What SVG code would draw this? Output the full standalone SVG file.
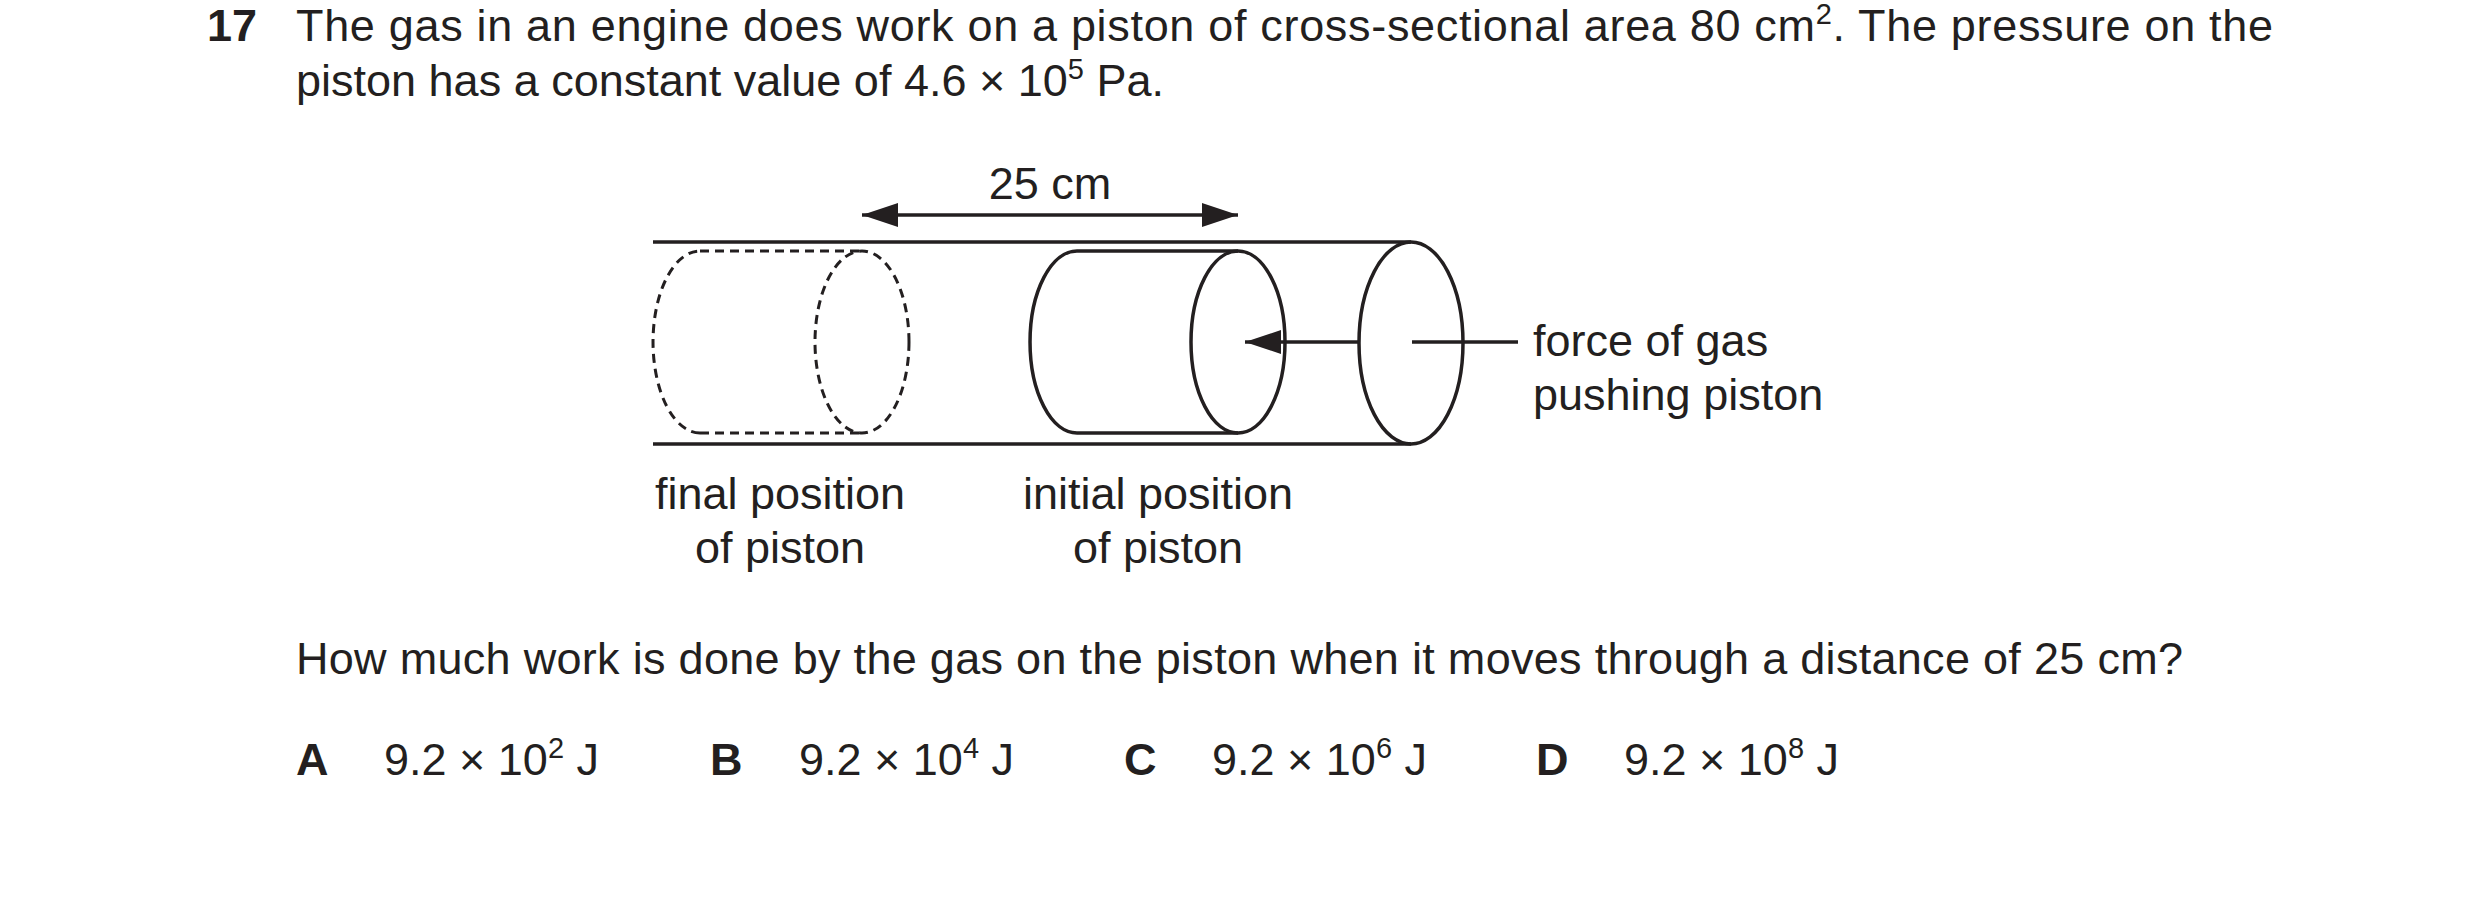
<svg xmlns="http://www.w3.org/2000/svg" width="2480" height="902" viewBox="0 0 2480 902">
<style>
text{font-family:"Liberation Sans",Arial,sans-serif;font-size:45px;fill:#231f20}
.b{font-weight:bold}
.s{stroke:#231f20;stroke-width:3.5;fill:none}
.d{stroke:#231f20;stroke-width:3;fill:none;stroke-dasharray:9 6}
</style>
<defs>
<marker id="a2" viewBox="0 0 36 24" refX="36" refY="12" markerWidth="36" markerHeight="24" markerUnits="userSpaceOnUse" orient="auto-start-reverse"><path d="M0,0L36,12L0,24z" fill="#231f20"/></marker>
</defs>
<rect width="2480" height="902" fill="#fff"/>
<text class="b" x="207" y="41">17</text>
<text x="296" y="41" textLength="1977" lengthAdjust="spacing">The gas in an engine does work on a piston of cross-sectional area 80 cm<tspan dy="-17" font-size="29">2</tspan><tspan dy="17">. The pressure on the</tspan></text>
<text x="296" y="96">piston has a constant value of 4.6 × 10<tspan dy="-17" font-size="29">5</tspan><tspan dy="17"> Pa.</tspan></text>
<g id="tube">
<path class="s" d="M653,242H1411M653,444H1411"/>
<ellipse class="s" cx="1411" cy="343" rx="52" ry="101"/>
</g>
<g id="final-piston">
<path class="d" d="M700,251H862M700,433H862"/>
<path class="d" d="M700,433A47,91 0 0 1 700,251"/>
<ellipse class="d" cx="862" cy="342" rx="47" ry="91"/>
</g>
<g id="initial-piston">
<path class="s" d="M1077,251H1238M1077,433H1238"/>
<path class="s" d="M1077,433A47,91 0 0 1 1077,251"/>
<ellipse class="s" cx="1238" cy="342" rx="47" ry="91"/>
</g>
<g id="connectors">
<line class="s" x1="862" y1="215" x2="1238" y2="215" marker-start="url(#a2)" marker-end="url(#a2)"/>
<line class="s" x1="1359" y1="342" x2="1245" y2="342" marker-end="url(#a2)"/>
<line class="s" x1="1412" y1="342" x2="1518" y2="342"/>
</g>
<text x="1050" y="199" text-anchor="middle">25 cm</text>
<text x="1533" y="356">force of gas</text>
<text x="1533" y="410">pushing piston</text>
<text x="780" y="509" text-anchor="middle">final position</text>
<text x="780" y="563" text-anchor="middle">of piston</text>
<text x="1158" y="509" text-anchor="middle">initial position</text>
<text x="1158" y="563" text-anchor="middle">of piston</text>
<text x="296" y="674" textLength="1887" lengthAdjust="spacing">How much work is done by the gas on the piston when it moves through a distance of 25 cm?</text>
<text class="b" x="296" y="775">A</text>
<text x="384" y="775">9.2 × 10<tspan dy="-17" font-size="29">2</tspan><tspan dy="17"> J</tspan></text>
<text class="b" x="710" y="775">B</text>
<text x="799" y="775">9.2 × 10<tspan dy="-17" font-size="29">4</tspan><tspan dy="17"> J</tspan></text>
<text class="b" x="1124" y="775">C</text>
<text x="1212" y="775">9.2 × 10<tspan dy="-17" font-size="29">6</tspan><tspan dy="17"> J</tspan></text>
<text class="b" x="1536" y="775">D</text>
<text x="1624" y="775">9.2 × 10<tspan dy="-17" font-size="29">8</tspan><tspan dy="17"> J</tspan></text>
</svg>
